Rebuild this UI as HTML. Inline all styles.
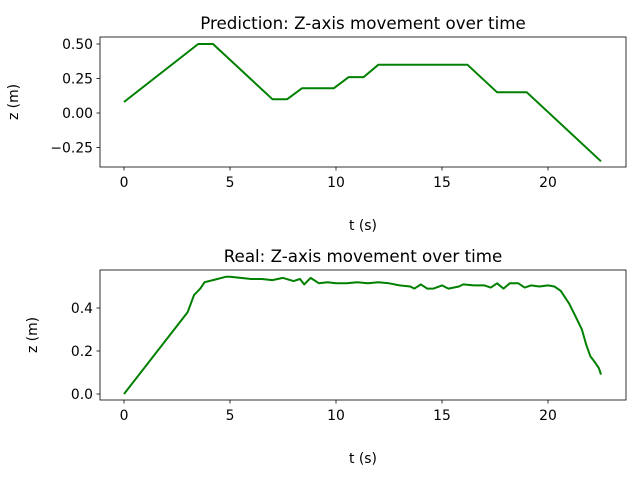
<!DOCTYPE html>
<html><head><meta charset="utf-8">
<style>
html,body{margin:0;padding:0;background:#fff;}
svg text{font-family:"DejaVu Sans","Liberation Sans",sans-serif;fill:#000;}
</style></head>
<body>
<svg id="chart" width="640" height="480" xmlns="http://www.w3.org/2000/svg"></svg>
<script>
const predT = [0,3.5,4.2,7.0,7.7,8.4,9.9,10.6,11.3,12.0,16.2,17.6,19.0,22.5];
const predZ = [0.08,0.5,0.5,0.1,0.1,0.18,0.18,0.26,0.26,0.35,0.35,0.15,0.15,-0.35];
const realT = [0,3,3.3,3.6,3.8,4.2,4.8,5,5.5,6,6.5,7,7.5,8,8.3,8.5,8.8,9.2,9.6,10,10.5,11,11.5,12,12.5,13,13.5,13.7,14,14.3,14.6,15,15.3,15.8,16,16.5,17,17.3,17.6,17.9,18.2,18.6,18.9,19.2,19.6,20,20.3,20.6,21,21.3,21.6,21.8,22.0,22.2,22.4,22.5];
const realZ = [0,0.38,0.46,0.49,0.52,0.53,0.545,0.545,0.54,0.535,0.535,0.53,0.54,0.525,0.535,0.51,0.54,0.515,0.52,0.515,0.515,0.52,0.515,0.52,0.515,0.505,0.5,0.49,0.51,0.49,0.49,0.505,0.49,0.5,0.51,0.505,0.505,0.495,0.515,0.49,0.515,0.515,0.495,0.505,0.5,0.505,0.5,0.48,0.42,0.36,0.3,0.23,0.175,0.15,0.12,0.09];
const xTicks = [0,5,10,15,20];
const predYTicks = [-0.25,0,0.25,0.5];
const predYLabels = ["−0.25","0.00","0.25","0.50"];
const realYTicks = [0,0.2,0.4];
const realYLabels = ["0.0","0.2","0.4"];

const NS="http://www.w3.org/2000/svg";
const svg=document.getElementById('chart');
function mk(tag,attrs,parent){const e=document.createElementNS(NS,tag);for(const k in attrs)e.setAttribute(k,attrs[k]);(parent||svg).appendChild(e);return e;}

function panel(opt){
  const g=mk('g',{});
  
  
  const L=100,R=626,T=opt.top,B=opt.top+130;
  const xs=t=>124+(t-0)*21.2;
  const ys=v=>opt.y0px+(v-opt.y0)*(opt.y1px-opt.y0px)/(opt.y1-opt.y0);
  let d='';
  opt.t.forEach((t,i)=>{d+=(i?'L':'M')+xs(t).toFixed(1)+','+ys(opt.z[i]).toFixed(1);});
  const line=mk('path',{d:d,fill:'none',stroke:'#008000','stroke-width':2,'stroke-linejoin':'round'},g);
  
  
  const frame=mk('rect',{x:L,y:T,width:R-L,height:B-T,fill:'none',stroke:'#000','stroke-width':0.8},g);
  
  
  xTicks.forEach(t=>{
    const x=xs(t);
    mk('line',{x1:x,x2:x,y1:B,y2:B+3.5,stroke:'#000','stroke-width':0.8},g);
    const tx=mk('text',{x:x,y:B+20,'font-size':13.9,'text-anchor':'middle'},g);
    tx.textContent=String(t);
    
    
  });
  opt.yTicks.forEach((v,i)=>{
    const y=ys(v);
    mk('line',{x1:L-3.5,x2:L,y1:y,y2:y,stroke:'#000','stroke-width':0.8},g);
    const tx=mk('text',{x:L-7,y:y+5,'font-size':13.9,'text-anchor':'end'},g);
    tx.textContent=opt.yLabels[i];
    
    
  });
  const ti=mk('text',{x:(L+R)/2,y:T-8,'font-size':16.7,'text-anchor':'middle'},g);
  ti.textContent=opt.title;
  
  
  const xl=mk('text',{x:(L+R)/2,y:B+63,'font-size':13.9,'text-anchor':'middle'},g);
  xl.textContent='t (s)';
  
  
  const yl=mk('text',{x:0,y:0,'font-size':13.9,'text-anchor':'middle',transform:`translate(${opt.ylx},${(T+B)/2}) rotate(-90)`},g);
  yl.textContent='z (m)';
  
  
}
panel({name:'prediction-plot',top:37,t:predT,z:predZ,y0:0,y1:0.5,y0px:113,y1px:44,yTicks:predYTicks,yLabels:predYLabels,title:'Prediction: Z-axis movement over time',ylx:18});
panel({name:'real-plot',top:270,t:realT,z:realZ,y0:0,y1:0.4,y0px:394,y1px:308,yTicks:realYTicks,yLabels:realYLabels,title:'Real: Z-axis movement over time',ylx:37});
</script>
</body></html>
